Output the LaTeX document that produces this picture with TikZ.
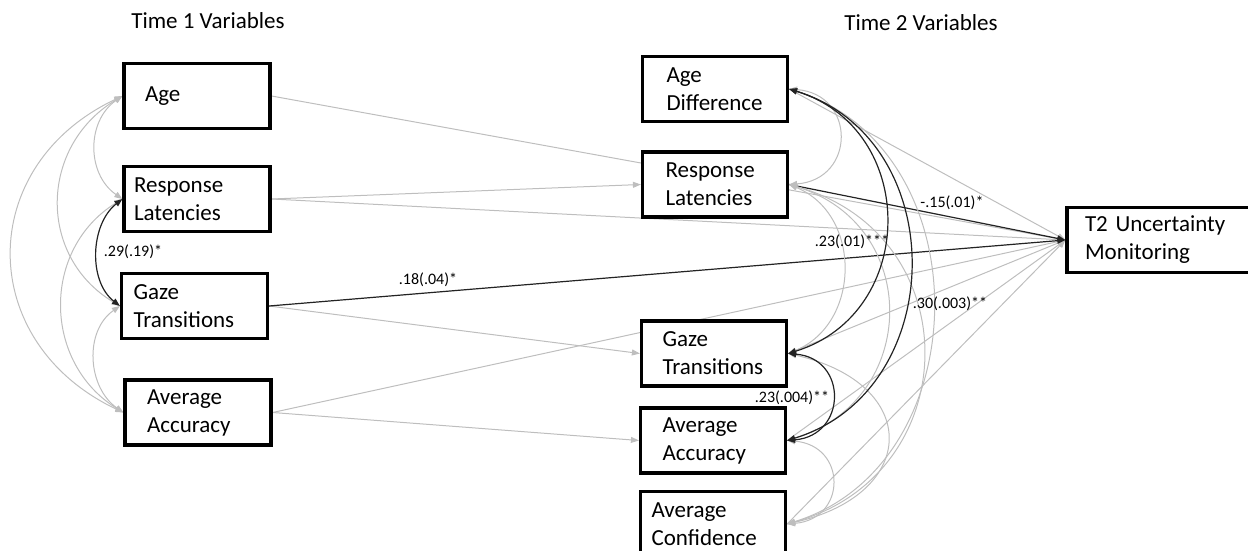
\documentclass[tikz,border=0pt]{standalone}
\usepackage{fontspec}
\setmainfont{Carlito}
\usetikzlibrary{arrows.meta,backgrounds}
\definecolor{lgray}{RGB}{190,190,190}
\definecolor{dgray}{RGB}{35,35,35}
\begin{document}
\begin{tikzpicture}[x=0.5pt,y=-0.5pt,
  >={Triangle[length=4pt,width=3pt]},
  box/.style={draw=black, line width=1.6pt, fill=white, minimum height=32.5pt,
    align=left, inner ysep=0pt, font=\fontsize{11.5}{14}\selectfont},
  hdr/.style={font=\fontsize{11.5}{14}\selectfont, inner sep=0pt},
  lbl/.style={font=\fontsize{8}{9.5}\selectfont, inner sep=0pt},
  gpath/.style={draw=lgray, line width=0.5pt, ->},
  bpath/.style={draw=dgray, line width=0.6pt, ->},
  gcov/.style={draw=lgray, line width=0.5pt, <->},
  bcov/.style={draw=dgray, line width=0.6pt, <->}]
\useasboundingbox (0,0) rectangle (1248,551);
\clip (0,0) rectangle (1248,551);

% headers
\node[hdr] (h1) at (208,21) {Time 1 Variables};
\node[hdr] (h2) at (921,23) {Time 2 Variables};

% Time 1 boxes
\node[box, inner xsep=10.5pt, text width=52pt] (Age) at (197,96) {Age};
\node[box, inner xsep=5pt, text width=63pt] (LRL) at (197,199) {Response\\Latencies};
\node[box, inner xsep=6pt, text width=61pt] (LGT) at (194.5,306) {Gaze\\Transitions};
\node[box, inner xsep=11pt, text width=51pt] (LAA) at (198,412.5) {Average\\Accuracy};

% Time 2 boxes
\node[box, inner xsep=12pt, text width=48.5pt] (MAD) at (715,89) {Age\\Difference};
\node[box, inner xsep=11.5pt, text width=49.5pt] (MRL) at (715,184.5) {Response\\Latencies};
\node[box, inner xsep=10.5pt, text width=51.5pt] (MGT) at (714,353.5) {Gaze\\Transitions};
\node[box, inner xsep=11pt, text width=50.5pt] (MAA) at (713,440.5) {Average\\Accuracy};
\node[box, inner xsep=5.5pt, text width=61.5pt] (MAC) at (713,524) {Average\\Confidence};

% outcome
\node[box, inner xsep=9pt, text width=81pt] (UM) at (1166,240) {T2 Uncertainty\\Monitoring};

% labels
\node[lbl] (l1) at (133,252) {.29(.19)*};
\node[lbl] (l2) at (428,280) {.18(.04)*};
\node[lbl] (l3) at (852,242) {.23(.01)***};
\node[lbl] (l4) at (952,203) {-.15(.01)*};
\node[lbl] (l5) at (950,304) {.30(.003)**};
\node[lbl] (l6) at (792,398) {.23(.004)**};

\begin{pgfonlayer}{background}
% Time 1 -> Time 2
\draw[gpath] (LRL.east) -- (MRL.west);
\draw[gpath] (LGT.east) -- (MGT.west);
\draw[gpath] (LAA.east) -- (MAA.west);
% paths to outcome
\draw[gpath] (Age.east) -- (UM.west);
\draw[gpath] (LRL.east) -- (UM.west);
\draw[gpath] (LAA.east) -- (UM.west);
\draw[gpath] (MAD.east) -- (UM.west);
\draw[gpath] (MGT.east) -- (UM.west);
\draw[gpath] (MAA.east) -- (UM.west);
\draw[gpath] (MAC.east) -- (UM.west);
\draw[bpath] (LGT.east) -- (UM.west);
\draw[bpath] (MRL.east) -- (UM.west);

% Time 1 covariances
\draw[gcov] (Age.west) .. controls +(-36,25) and +(-36,-25) .. (LRL.west);
\draw[gcov] (Age.west) .. controls +(-83,50) and +(-83,-50) .. (LGT.west);
\draw[gcov] (Age.west) .. controls +(-148,70) and +(-148,-70) .. (LAA.west);
\draw[gcov] (LRL.west) .. controls +(-81,50) and +(-81,-50) .. (LAA.west);
\draw[gcov] (LGT.west) .. controls +(-36,25) and +(-36,-25) .. (LAA.west);
\draw[bcov] (LRL.west) .. controls +(-32,25) and +(-32,-25) .. (LGT.west);

% Time 2 covariances
\draw[gcov] (MAD.east) .. controls +(67,5) and +(67,-5) .. (MRL.east);
\draw[gcov] (MRL.east) .. controls +(73,30) and +(73,-30) .. (MGT.east);
\draw[gcov] (MRL.east) .. controls +(133,40) and +(133,-40) .. (MAA.east);
\draw[gcov] (MRL.east) .. controls +(180,50) and +(180,-50) .. (MAC.east);
\draw[gcov] (MAD.east) .. controls +(193,60) and +(193,-60) .. (MAC.east);
\draw[gcov] (MGT.east) .. controls +(133,30) and +(133,-30) .. (MAC.east);
\draw[gcov] (MAA.east) .. controls +(60,5) and +(60,-5) .. (MAC.east);
\draw[bcov] (MAD.east) .. controls +(130,40) and +(130,-40) .. (MGT.east);
\draw[bcov] (MAD.east) .. controls +(163,50) and +(163,-50) .. (MAA.east);
\draw[bcov] (MGT.east) .. controls +(60,5) and +(60,-5) .. (MAA.east);
\end{pgfonlayer}
\end{tikzpicture}
\end{document}
